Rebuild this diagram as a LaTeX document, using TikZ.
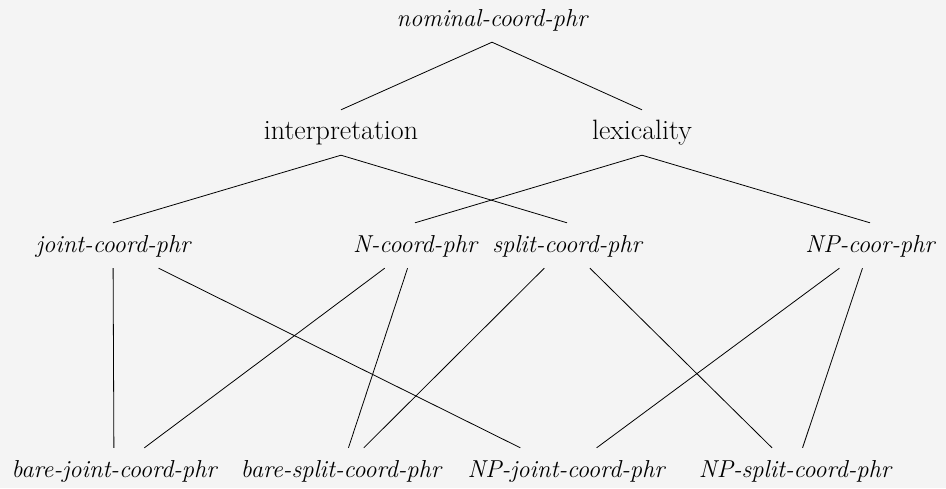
\documentclass[tikz,border=0pt]{standalone}
\usepackage{fontspec}
\definecolor{bgc}{RGB}{244,244,244}
\tikzset{
  tnode/.style={anchor=base, inner xsep=2pt, inner ysep=11pt, text height=18pt, text depth=5pt},
  itl/.style={tnode, font=\fontsize{24.5}{29}\selectfont\itshape},
  upr/.style={tnode, font=\fontsize{28}{33}\selectfont},
  edge/.style={draw=black, line width=0.8pt}
}
\begin{document}
\begin{tikzpicture}[x=1pt,y=-1pt]
\fill[bgc] (0,0) rectangle (946,488);
\useasboundingbox (0,0) rectangle (946,488);
\node[itl] (top) at (492,26) {nominal-coord-phr};
\node[upr] (interp) at (341,139) {interpretation};
\node[upr] (lex) at (642,139) {lexicality};
\node[itl] (joint) at (113,252) {joint-coord-phr};
\node[itl] (ncoord) at (415,252) {N-coord-phr};
\node[itl] (split) at (567,252) {split-coord-phr};
\node[itl] (npcoor) at (870,252) {NP-coor-phr};
\node[itl] (barejoint) at (114,477) {bare-joint-coord-phr};
\node[itl] (baresplit) at (341,477) {bare-split-coord-phr};
\node[itl] (npjoint) at (566,477) {NP-joint-coord-phr};
\node[itl] (npsplit) at (795,477) {NP-split-coord-phr};
\draw[edge] (top.south) -- (interp.north);
\draw[edge] (top.south) -- (lex.north);
\draw[edge] (interp.south) -- (joint.north);
\draw[edge] (interp.south) -- (split.north);
\draw[edge] (lex.south) -- (ncoord.north);
\draw[edge] (lex.south) -- (npcoor.north);
\draw[edge] (joint) -- (barejoint);
\draw[edge] (joint) -- (npjoint);
\draw[edge] (ncoord) -- (barejoint);
\draw[edge] (ncoord) -- (baresplit);
\draw[edge] (split) -- (baresplit);
\draw[edge] (split) -- (npsplit);
\draw[edge] (npcoor) -- (npjoint);
\draw[edge] (npcoor) -- (npsplit);
\end{tikzpicture}
\end{document}
